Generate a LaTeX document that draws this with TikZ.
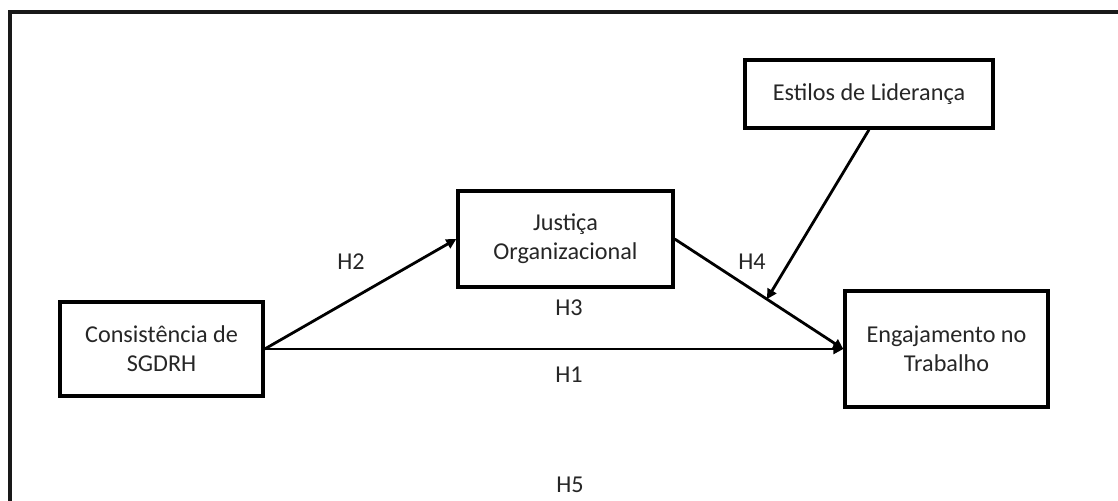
\documentclass[tikz,border=0pt]{standalone}
\usepackage{fontspec}
\setmainfont{Carlito}
\usetikzlibrary{arrows.meta,calc}
\begin{document}
\begin{tikzpicture}[x=0.5pt,y=-0.5pt,
  every node/.style={font=\fontsize{12.1}{14.5}\selectfont, text=black!85},
  varbox/.style={draw=black, line width=1.7pt, align=center, inner sep=0pt},
  path/.style={draw=black, line width=1.4pt, -{Triangle[length=5pt,width=5pt]}},
  hyp/.style={inner sep=0pt}]
  \useasboundingbox (0,0) rectangle (1118,500);
  % outer frame (continues past the page on the right and bottom)
  \draw[line width=1.6pt, black!90] (10,520) -- (10,12) -- (1130,12);

  % variables
  \node[varbox, minimum width=124pt, minimum height=34pt] (estilos) at (869,94) {Estilos de Liderança};
  \node[varbox, minimum width=107.5pt, minimum height=48pt] (justica) at (565.5,239) {Justiça\\Organizacional};
  \node[varbox, minimum width=101.5pt, minimum height=47pt] (consist) at (161.5,349) {Consistência de\\SGDRH};
  \node[varbox, minimum width=101.5pt, minimum height=58pt] (engaj) at (946.5,349) {Engajamento no\\Trabalho};

  % paths between variables
  \draw[path] (consist.east) -- (justica.west);
  \draw[path] (consist.east) -- (engaj.west);
  \draw[path] (justica.east) -- (engaj.west);
  \coordinate (moderated) at ($(justica.east)!0.547!(engaj.west)$);
  \draw[path] (estilos.south) -- (moderated);

  % hypothesis labels
  \node[hyp] (h1) at (569,375) {H1};
  \node[hyp] (h2) at (351,262) {H2};
  \node[hyp] (h3) at (569,308) {H3};
  \node[hyp] (h4) at (752,262) {H4};
  \node[hyp] (h5) at (570,485) {H5};
\end{tikzpicture}
\end{document}
